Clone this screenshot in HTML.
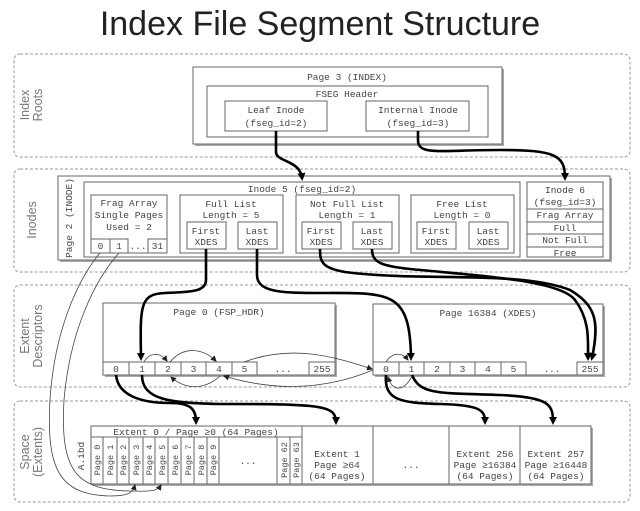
<!DOCTYPE html>
<html><head><meta charset="utf-8"><style>
html,body{margin:0;padding:0;background:#fff;}
svg{display:block}
.m{font-family:"Liberation Mono",monospace;font-size:9.5px;fill:#444;}
.s{font-family:"Liberation Sans",sans-serif;font-size:12.5px;fill:#777;}
.b{fill:#fff;stroke:#666;stroke-width:1;}
.sh{fill:#aaa;}
.pn{fill:none;stroke:#999;stroke-width:1;stroke-dasharray:3,2;}
.tk{fill:none;stroke:#000;stroke-width:2.6;}
.tn{fill:none;stroke:#444;stroke-width:0.8;}
</style></head><body>
<svg width="640" height="511" viewBox="0 0 640 511" xmlns="http://www.w3.org/2000/svg">
<defs>
<marker id="A" markerWidth="8" markerHeight="8" refX="5" refY="4" orient="auto" markerUnits="userSpaceOnUse" viewBox="0 0 8 8"><path d="M0,0 L8,4 L0,8 z" fill="#000"/></marker>
<marker id="a" markerWidth="6" markerHeight="6" refX="5" refY="3" orient="auto" markerUnits="userSpaceOnUse"><path d="M0,0 L6,3 L0,6 z" fill="#222"/></marker>
</defs>
<text x="320" y="35" text-anchor="middle" font-family="Liberation Sans,sans-serif" font-size="34" fill="#222">Index File Segment Structure</text>

<rect class="pn" x="14" y="54" width="616" height="103" rx="6"/>
<rect class="pn" x="14" y="169" width="616" height="103" rx="6"/>
<rect class="pn" x="14" y="285" width="616" height="102" rx="6"/>
<rect class="pn" x="14" y="401" width="616" height="101" rx="6"/>
<text class="s" transform="translate(29,105) rotate(-90)" text-anchor="middle">Index</text>
<text class="s" transform="translate(42,105) rotate(-90)" text-anchor="middle">Roots</text>
<text class="s" transform="translate(36,220) rotate(-90)" text-anchor="middle">Inodes</text>
<text class="s" transform="translate(29,336) rotate(-90)" text-anchor="middle">Extent</text>
<text class="s" transform="translate(42,336) rotate(-90)" text-anchor="middle">Descriptors</text>
<text class="s" transform="translate(29,452) rotate(-90)" text-anchor="middle">Space</text>
<text class="s" transform="translate(42,452) rotate(-90)" text-anchor="middle">(Extents)</text>

<rect class="sh" x="195" y="69" width="309" height="77"/>
<rect class="b" x="193" y="67" width="309" height="77"/>
<text class="m" x="347" y="80" text-anchor="middle">Page 3 (INDEX)</text>
<rect class="b" x="207" y="86" width="281" height="51"/>
<text class="m" x="347" y="97" text-anchor="middle">FSEG Header</text>
<rect class="b" x="225" y="101" width="102" height="30"/>
<text class="m" x="276" y="113" text-anchor="middle">Leaf Inode</text>
<text class="m" x="276" y="126" text-anchor="middle">(fseg_id=2)</text>
<rect class="b" x="366" y="101" width="103" height="30"/>
<text class="m" x="418" y="113" text-anchor="middle">Internal Inode</text>
<text class="m" x="418" y="126" text-anchor="middle">(fseg_id=3)</text>

<rect class="sh" x="60" y="178" width="552" height="84"/>
<rect class="b" x="58" y="176" width="552" height="84"/>
<text class="m" transform="translate(72,218) rotate(-90)" text-anchor="middle">Page 2 (INODE)</text>
<rect class="b" x="84" y="182" width="436" height="75"/>
<text class="m" x="302" y="192" text-anchor="middle">Inode 5 (fseg_id=2)</text>
<rect class="b" x="91" y="195" width="76" height="58"/>
<text class="m" x="129" y="206" text-anchor="middle">Frag Array</text>
<text class="m" x="129" y="218" text-anchor="middle">Single Pages</text>
<text class="m" x="129" y="230" text-anchor="middle">Used = 2</text>
<rect class="b" x="91" y="239" width="19" height="14"/><text class="m" x="100.5" y="249" text-anchor="middle">0</text>
<rect class="b" x="110" y="239" width="18" height="14"/><text class="m" x="119" y="249" text-anchor="middle">1</text>
<text class="m" x="138" y="249" text-anchor="middle">...</text>
<rect class="b" x="148" y="239" width="19" height="14"/><text class="m" x="157.5" y="249" text-anchor="middle">31</text>

<rect class="b" x="180" y="195" width="103" height="58"/>
<text class="m" x="231" y="207" text-anchor="middle">Full List</text>
<text class="m" x="231" y="218" text-anchor="middle">Length = 5</text>
<rect class="b" x="187" y="222" width="39" height="27"/><text class="m" x="206" y="234" text-anchor="middle">First</text><text class="m" x="206" y="245" text-anchor="middle">XDES</text>
<rect class="b" x="238" y="222" width="39" height="27"/><text class="m" x="257" y="234" text-anchor="middle">Last</text><text class="m" x="257" y="245" text-anchor="middle">XDES</text>

<rect class="b" x="296" y="195" width="103" height="58"/>
<text class="m" x="347" y="207" text-anchor="middle">Not Full List</text>
<text class="m" x="347" y="218" text-anchor="middle">Length = 1</text>
<rect class="b" x="302" y="222" width="39" height="27"/><text class="m" x="321" y="234" text-anchor="middle">First</text><text class="m" x="321" y="245" text-anchor="middle">XDES</text>
<rect class="b" x="353" y="222" width="39" height="27"/><text class="m" x="372" y="234" text-anchor="middle">Last</text><text class="m" x="372" y="245" text-anchor="middle">XDES</text>

<rect class="b" x="411" y="195" width="103" height="58"/>
<text class="m" x="462" y="207" text-anchor="middle">Free List</text>
<text class="m" x="462" y="218" text-anchor="middle">Length = 0</text>
<rect class="b" x="417" y="222" width="39" height="27"/><text class="m" x="436" y="234" text-anchor="middle">First</text><text class="m" x="436" y="245" text-anchor="middle">XDES</text>
<rect class="b" x="469" y="222" width="39" height="27"/><text class="m" x="488" y="234" text-anchor="middle">Last</text><text class="m" x="488" y="245" text-anchor="middle">XDES</text>

<rect class="b" x="527" y="182" width="76" height="75"/>
<text class="m" x="565" y="193" text-anchor="middle">Inode 6</text>
<text class="m" x="565" y="205" text-anchor="middle">(fseg_id=3)</text>
<line x1="527" y1="209" x2="603" y2="209" stroke="#666"/>
<line x1="527" y1="222" x2="603" y2="222" stroke="#666"/>
<line x1="527" y1="234" x2="603" y2="234" stroke="#666"/>
<line x1="527" y1="247" x2="603" y2="247" stroke="#666"/>
<text class="m" x="565" y="218" text-anchor="middle">Frag Array</text>
<text class="m" x="565" y="231" text-anchor="middle">Full</text>
<text class="m" x="565" y="243" text-anchor="middle">Not Full</text>
<text class="m" x="565" y="256" text-anchor="middle">Free</text>

<rect class="sh" x="105" y="305" width="232" height="72"/>
<rect class="b" x="103" y="303" width="232" height="72"/>
<text class="m" x="219" y="315" text-anchor="middle">Page 0 (FSP_HDR)</text>
<g>
<rect class="b" x="103" y="362" width="26" height="13"/><text class="m" x="116" y="372" text-anchor="middle">0</text>
<rect class="b" x="129" y="362" width="26" height="13"/><text class="m" x="142" y="372" text-anchor="middle">1</text>
<rect class="b" x="155" y="362" width="26" height="13"/><text class="m" x="168" y="372" text-anchor="middle">2</text>
<rect class="b" x="181" y="362" width="25" height="13"/><text class="m" x="193.5" y="372" text-anchor="middle">3</text>
<rect class="b" x="206" y="362" width="26" height="13"/><text class="m" x="219" y="372" text-anchor="middle">4</text>
<rect class="b" x="232" y="362" width="25" height="13"/><text class="m" x="244.5" y="372" text-anchor="middle">5</text>
<text class="m" x="283" y="372" text-anchor="middle">...</text>
<rect class="b" x="309" y="362" width="26" height="13"/><text class="m" x="322" y="372" text-anchor="middle">255</text>
</g>
<rect class="sh" x="375" y="306" width="230" height="71"/>
<rect class="b" x="373" y="304" width="230" height="71"/>
<text class="m" x="488" y="316" text-anchor="middle">Page 16384 (XDES)</text>
<g>
<rect class="b" x="373" y="362" width="26" height="13"/><text class="m" x="386" y="372" text-anchor="middle">0</text>
<rect class="b" x="399" y="362" width="25" height="13"/><text class="m" x="411.5" y="372" text-anchor="middle">1</text>
<rect class="b" x="424" y="362" width="26" height="13"/><text class="m" x="437" y="372" text-anchor="middle">2</text>
<rect class="b" x="450" y="362" width="25" height="13"/><text class="m" x="462.5" y="372" text-anchor="middle">3</text>
<rect class="b" x="475" y="362" width="26" height="13"/><text class="m" x="488" y="372" text-anchor="middle">4</text>
<rect class="b" x="501" y="362" width="25" height="13"/><text class="m" x="513.5" y="372" text-anchor="middle">5</text>
<text class="m" x="552" y="372" text-anchor="middle">...</text>
<rect class="b" x="577" y="362" width="26" height="13"/><text class="m" x="590" y="372" text-anchor="middle">255</text>
</g>

<rect class="sh" x="93" y="428" width="500" height="58"/>
<rect class="b" x="91" y="426" width="500" height="58"/>
<line x1="91" y1="437" x2="302" y2="437" stroke="#666"/>
<text class="m" x="196" y="435" text-anchor="middle">Extent 0 / Page ≥0 (64 Pages)</text>
<text class="m" transform="translate(84,456) rotate(-90)" text-anchor="middle">A.ibd</text>
<g stroke="#666">
<line x1="103" y1="437" x2="103" y2="484"/><line x1="117" y1="437" x2="117" y2="484"/><line x1="129" y1="437" x2="129" y2="484"/><line x1="143" y1="437" x2="143" y2="484"/><line x1="155" y1="437" x2="155" y2="484"/><line x1="168" y1="437" x2="168" y2="484"/><line x1="181" y1="437" x2="181" y2="484"/><line x1="194" y1="437" x2="194" y2="484"/><line x1="207" y1="437" x2="207" y2="484"/><line x1="219" y1="437" x2="219" y2="484"/><line x1="277" y1="437" x2="277" y2="484"/><line x1="290" y1="437" x2="290" y2="484"/>
<line x1="302" y1="426" x2="302" y2="484"/><line x1="373" y1="426" x2="373" y2="484"/><line x1="449" y1="426" x2="449" y2="484"/><line x1="520" y1="426" x2="520" y2="484"/>
</g>
<g class="m">
<text transform="translate(100,460) rotate(-90)" text-anchor="middle" font-size="8.5">Page 0</text>
<text transform="translate(113,460) rotate(-90)" text-anchor="middle" font-size="8.5">Page 1</text>
<text transform="translate(126,460) rotate(-90)" text-anchor="middle" font-size="8.5">Page 2</text>
<text transform="translate(139,460) rotate(-90)" text-anchor="middle" font-size="8.5">Page 3</text>
<text transform="translate(152,460) rotate(-90)" text-anchor="middle" font-size="8.5">Page 4</text>
<text transform="translate(165,460) rotate(-90)" text-anchor="middle" font-size="8.5">Page 5</text>
<text transform="translate(178,460) rotate(-90)" text-anchor="middle" font-size="8.5">Page 6</text>
<text transform="translate(191,460) rotate(-90)" text-anchor="middle" font-size="8.5">Page 7</text>
<text transform="translate(204,460) rotate(-90)" text-anchor="middle" font-size="8.5">Page 8</text>
<text transform="translate(216,460) rotate(-90)" text-anchor="middle" font-size="8.5">Page 9</text>
<text transform="translate(287,460) rotate(-90)" text-anchor="middle" font-size="8.5">Page 62</text>
<text transform="translate(299,460) rotate(-90)" text-anchor="middle" font-size="8.5">Page 63</text>
</g>
<text class="m" x="248" y="464" text-anchor="middle">...</text>
<text class="m" x="337" y="457" text-anchor="middle">Extent 1</text>
<text class="m" x="337" y="468" text-anchor="middle">Page ≥64</text>
<text class="m" x="337" y="479" text-anchor="middle">(64 Pages)</text>
<text class="m" x="411" y="468" text-anchor="middle">...</text>
<text class="m" x="485" y="457" text-anchor="middle">Extent 256</text>
<text class="m" x="485" y="468" text-anchor="middle">Page ≥16384</text>
<text class="m" x="485" y="479" text-anchor="middle">(64 Pages)</text>
<text class="m" x="556" y="457" text-anchor="middle">Extent 257</text>
<text class="m" x="556" y="468" text-anchor="middle">Page ≥16448</text>
<text class="m" x="556" y="479" text-anchor="middle">(64 Pages)</text>

<path class="tk" marker-end="url(#A)" d="M276,131 L276,152 C276,162 300,160 302,178"/>
<path class="tk" marker-end="url(#A)" d="M418,131 L418,140 C418,156 440,150 500,150 C555,150 565,155 565,178"/>
<path class="tk" marker-end="url(#A)" d="M206,249 L206,280 C206,292 190,292 165,293 C140,294 140,305 141,358"/>
<path class="tk" marker-end="url(#A)" d="M257,249 L257,275 C257,292 280,293 320,293 C390,293 410,290 411,358"/>
<path class="tk" marker-end="url(#A)" d="M320,249 C320,262 322,268 345,272 C420,282 520,270 570,290 C595,305 600,320 592,358"/>
<path class="tk" marker-end="url(#A)" d="M372,249 C372,262 380,266 410,269 C480,276 560,280 575,300 C590,320 588,340 588,358"/>
<path class="tk" stroke-width="2" marker-end="url(#A)" d="M116,375 C118,395 140,403 170,403 C192,403 196,410 196,422"/>
<path class="tk" stroke-width="2" marker-end="url(#A)" d="M142,375 C142,400 170,403 220,404 C320,404 336,405 336,422"/>
<path class="tk" stroke-width="2" marker-end="url(#A)" d="M386,375 C384,400 400,403 440,404 C480,405 485,410 485,422"/>
<path class="tk" stroke-width="2" marker-end="url(#A)" d="M412,375 C420,395 440,393 500,395 C550,397 553,405 553,422"/>

<path class="tn" marker-end="url(#a)" d="M144,362 C150,352 160,352 167,361"/>
<path class="tn" marker-end="url(#a)" d="M170,362 C185,344 205,350 216,361"/>
<path class="tn" marker-end="url(#a)" d="M220,376 C205,390 185,390 171,377"/>
<path class="tn" marker-end="url(#a)" d="M244,362 C290,345 330,355 372,369"/>
<path class="tn" marker-end="url(#a)" d="M373,370 C320,392 270,390 224,376"/>
<path class="tn" marker-end="url(#a)" d="M386,362 C392,352 402,352 408,360"/>
<path class="tn" marker-end="url(#a)" d="M412,376 C404,392 392,392 388,377"/>
<path class="tn" marker-end="url(#a)" d="M100,253 C85,270 55,320 50,400 C46,470 60,495 110,496 C130,496 133,492 135,485"/>
<path class="tn" marker-end="url(#a)" d="M119,253 C95,280 70,330 64,400 C60,470 75,490 130,491 C155,492 158,490 161,485"/>
</svg>
</body></html>
